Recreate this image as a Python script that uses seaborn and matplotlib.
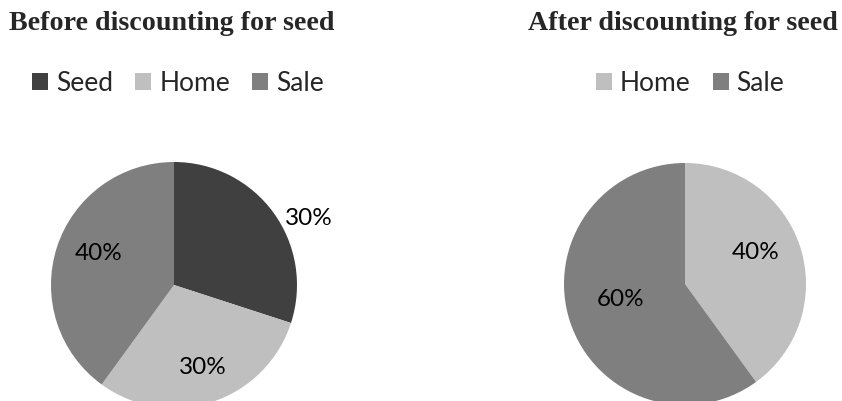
import matplotlib
matplotlib.use("Agg")
import matplotlib.pyplot as plt
import seaborn as sns
import numpy as np
from matplotlib.patches import Patch

sns.set_theme(style="white")
plt.rcParams['font.family'] = ['Lato', 'DejaVu Sans']

# Data
before_labels = ["Seed", "Home", "Sale"]
before_values = [30, 30, 40]
after_labels = ["Home", "Sale"]
after_values = [40, 60]
titles = ["Before discounting for seed", "After discounting for seed"]
colors = {"Seed": "#404040", "Home": "#bfbfbf", "Sale": "#7f7f7f"}

fig = plt.figure(figsize=(8.42, 4.02), dpi=100)

ax1 = fig.add_axes([51/842, (402-409)/402, 246/842, 246/402])
ax2 = fig.add_axes([564/842, (402-406)/402, 242/842, 242/402])

def draw(ax, labels, values, label_pos):
    wedges, texts, autotexts = ax.pie(
        values, colors=[colors[l] for l in labels], startangle=90,
        counterclock=False, autopct=lambda p: f"{p:.0f}%", pctdistance=0.68,
        wedgeprops=dict(linewidth=0), textprops=dict(fontsize=17.5, color="black"),
        radius=1.0)
    for t, (ang, dist) in zip(autotexts, label_pos):
        a = np.deg2rad(ang)
        t.set_position((dist*np.cos(a), dist*np.sin(a)))
        t.set_clip_on(False)
    ax.set_xlim(-1, 1)
    ax.set_ylim(-1, 1)
    ax.set_aspect("equal")
    ax.axis("off")
    return wedges

w1 = draw(ax1, before_labels, before_values, [(26.7, 1.23), (-70.3, 0.70), (156.5, 0.67)])
w2 = draw(ax2, after_labels, after_values, [(24.6, 0.64), (193, 0.55)])

fig.text(172/842, 1-23/402, titles[0], ha="center", va="center",
         fontsize=20.2, fontweight="bold", family=["Liberation Serif"])
fig.text(683/842, 1-23/402, titles[1], ha="center", va="center",
         fontsize=20.2, fontweight="bold", family=["Liberation Serif"])

def legend(labels, cx):
    handles = [Patch(facecolor=colors[l], edgecolor="none", label=l) for l in labels]
    fig.legend(handles=handles, loc="center", bbox_to_anchor=(cx/842, 1-84/402),
               ncol=len(labels), frameon=False, fontsize=19,
               handlelength=0.6, handleheight=0.6, handletextpad=0.3,
               columnspacing=0.85, borderpad=0)

legend(before_labels, 178)
legend(after_labels, 690)

fig.savefig("out.png", dpi=100)
